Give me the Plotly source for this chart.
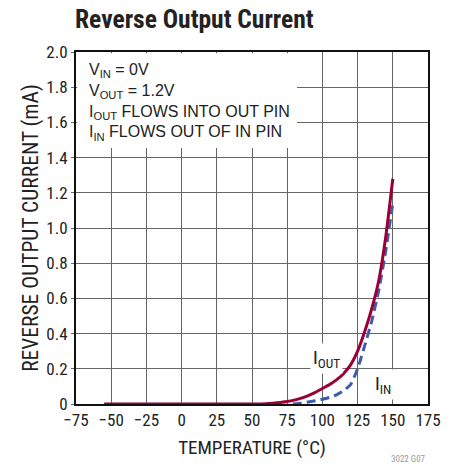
import plotly.graph_objects as go

# Data
temp_out = [-55, 0, 50, 60, 65, 70, 75, 80, 85, 90, 95, 100, 105, 110, 115, 120, 125, 130, 135, 140, 145, 150]
i_out = [0.0, 0.0, 0.0, 0.002, 0.005, 0.009, 0.014, 0.022, 0.033, 0.048, 0.066, 0.088, 0.11, 0.137, 0.172, 0.222, 0.3, 0.41, 0.54, 0.7, 0.95, 1.28]

temp_in = [79, 85, 90, 95, 100, 105, 110, 115, 120, 125, 130, 135, 140, 145, 150]
i_in = [0.0, 0.005, 0.011, 0.018, 0.027, 0.037, 0.052, 0.075, 0.11, 0.2, 0.33, 0.47, 0.645, 0.87, 1.14]

x_ticks = [-75, -50, -25, 0, 25, 50, 75, 100, 125, 150, 175]
y_ticks = [0, 0.2, 0.4, 0.6, 0.8, 1.0, 1.2, 1.4, 1.6, 1.8, 2.0]
y_tick_labels = ["0", "0.2", "0.4", "0.6", "0.8", "1.0", "1.2", "1.4", "1.6", "1.8", "2.0"]

note_lines = ["V<sub>IN</sub> = 0V", "V<sub>OUT</sub> = 1.2V",
              "I<sub>OUT</sub> FLOWS INTO OUT PIN", "I<sub>IN</sub> FLOWS OUT OF IN PIN"]

FONT = "Liberation Sans Narrow, Roboto Condensed, Arial Narrow, sans-serif"
NOTE_FONT = "Liberation Sans, Arial, sans-serif"
TXT = "#222"
PW, PH = 352.0, 352.0  # plot area size in px

fig = go.Figure()
fig.add_trace(go.Scatter(x=temp_in, y=i_in, mode="lines",
                         line=dict(color="#3d5cab", width=3, dash="9px,5px", shape="spline", smoothing=0.5),
                         showlegend=False))
fig.add_trace(go.Scatter(x=temp_out, y=i_out, mode="lines",
                         line=dict(color="#9a0036", width=3, shape="spline", smoothing=0.5),
                         showlegend=False))

annotations = [
    dict(text="<br>".join(note_lines), xref="paper", yref="paper", x=0.03,
         y=1 - 50 / PH, xanchor="left", yanchor="middle",
         align="left", showarrow=False, font=dict(family=NOTE_FONT, size=16, color=TXT)),
    dict(text="I<sub>OUT</sub>", x=103, y=0.26, xref="x", yref="y", showarrow=False,
         bgcolor="white", font=dict(size=19, color=TXT), borderpad=2),
    dict(text="I<sub>IN</sub>", x=143, y=0.11, xref="x", yref="y", showarrow=False,
         bgcolor="white", font=dict(size=19, color=TXT), borderpad=2),
    dict(text="3022 G07", xref="paper", yref="paper", x=1.0, y=-0.157, xanchor="right",
         yanchor="middle", showarrow=False, font=dict(size=9, color="#999")),
]

fig.update_layout(
    width=461, height=465,
    margin=dict(l=76, r=33, t=52, b=61),
    paper_bgcolor="white", plot_bgcolor="white",
    font=dict(family=FONT, size=17, color=TXT),
    title=dict(text="<b>Reverse Output Current</b>", x=75/461, xanchor="left",
               y=1 - 19/465, yanchor="middle",
               font=dict(family=FONT, size=25.5, color=TXT)),
    xaxis=dict(range=[-75, 175], tickvals=x_ticks, automargin=False,
               ticktext=[("\u2212" + str(-v)) if v < 0 else str(v) for v in x_ticks],
               showgrid=True, gridcolor="#666", gridwidth=1,
               showline=True, linecolor="#111", linewidth=2, mirror=True,
               zeroline=False, ticks="", tickfont=dict(size=17),
               title=dict(text="TEMPERATURE (°C)", font=dict(size=19), standoff=11)),
    yaxis=dict(range=[0, 2.0], tickvals=y_ticks, ticktext=y_tick_labels, automargin=False,
               showgrid=True, gridcolor="#666", gridwidth=1,
               showline=True, linecolor="#111", linewidth=2, mirror=True,
               zeroline=False, ticks="outside", ticklen=3, tickcolor="#666",
               tickfont=dict(size=17),
               title=dict(text="REVERSE OUTPUT CURRENT (mA)", font=dict(size=21.5), standoff=2)),
    shapes=[dict(type="rect", xref="paper", yref="paper",
                 x0=1.2 / PW, x1=221 / PW, y0=1 - 96 / PH, y1=1 - 1.2 / PH,
                 fillcolor="white", line=dict(width=0), layer="above")],
    annotations=annotations,
)

fig.write_html("out.html", config={"displayModeBar": False},
               post_script="document.body.style.margin='0';")
